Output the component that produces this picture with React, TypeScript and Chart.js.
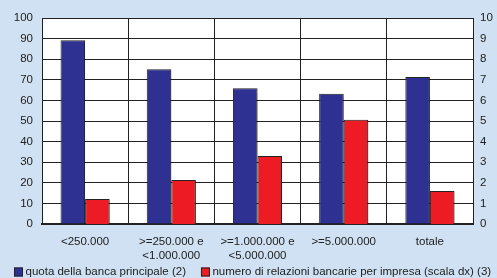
import React, { useEffect, useRef } from "react";
import { Chart, registerables } from "chart.js";

Chart.register(...registerables);

const categories: (string | string[])[] = [
  "<250.000",
  [">=250.000 e", "<1.000.000"],
  [">=1.000.000 e", "<5.000.000"],
  ">=5.000.000",
  "totale",
];
const quotaBanca = [89.2, 75.1, 65.9, 63.2, 71.4];
const numeroRelazioni = [1.21, 2.14, 3.3, 5.06, 1.6];
const leftTicks = [0, 10, 20, 30, 40, 50, 60, 70, 80, 90, 100];
const rightTicks = [0, 1, 2, 3, 4, 5, 6, 7, 8, 9, 10];

const BG = "#cfe1f2";
const BLUE = "#2e3192";
const RED = "#ed1c24";
const DARK = "#222222";
const FONT = "Liberation Sans, Arial, sans-serif";
const FS = 11.5;

export default function App() {
  const ref = useRef<HTMLCanvasElement | null>(null);
  useEffect(() => {
    document.body.style.margin = "0";
    const canvas = ref.current!;
    const bgPlugin = {
      id: "bg",
      beforeDraw(chart: any) {
        const { ctx, chartArea } = chart;
        ctx.save();
        ctx.fillStyle = BG;
        ctx.fillRect(0, 0, chart.width, chart.height);
        ctx.fillStyle = "#ffffff";
        ctx.fillRect(chartArea.left, chartArea.top, chartArea.right - chartArea.left, chartArea.bottom - chartArea.top);
        ctx.restore();
      },
      beforeDatasetsDraw(chart: any) {
        const ctx = chart.ctx;
        ctx.save();
        ctx.shadowColor = "rgba(0,0,0,0.25)";
        ctx.shadowOffsetX = 2;
        ctx.shadowOffsetY = 1;
        ctx.shadowBlur = 1;
      },
      afterDatasetsDraw(chart: any) {
        chart.ctx.restore();
      },
      afterDraw(chart: any) {
        const ctx = chart.ctx;
        ctx.save();
        ctx.font = `${FS}px ${FONT}`;
        ctx.textBaseline = "middle";
        ctx.textAlign = "left";
        const cy = 272;
        let x = 14;
        chart.data.datasets.forEach((ds: any) => {
          ctx.fillStyle = ds.backgroundColor;
          ctx.fillRect(x, cy - 4.5, 9, 9);
          ctx.strokeStyle = DARK;
          ctx.lineWidth = 1;
          ctx.strokeRect(x + 0.5, cy - 4, 8, 8);
          ctx.fillStyle = DARK;
          ctx.fillText(ds.label, x + 11.5, cy);
          x += 11.5 + ctx.measureText(ds.label).width + 15;
        });
        ctx.restore();
      },
    };
    const chart = new Chart(canvas, {
      type: "bar",
      data: {
        labels: categories,
        datasets: [
          {
            label: "quota della banca principale (2)",
            data: quotaBanca,
            backgroundColor: BLUE,
            borderColor: DARK,
            borderWidth: 1,
            yAxisID: "y",
          },
          {
            label: "numero di relazioni bancarie per impresa (scala dx) (3)",
            data: numeroRelazioni,
            backgroundColor: RED,
            borderColor: DARK,
            borderWidth: 1,
            yAxisID: "y1",
          },
        ],
      },
      options: {
        animation: false,
        responsive: false,
        maintainAspectRatio: false,
        datasets: { bar: { categoryPercentage: 0.57, barPercentage: 1 } },
        layout: { padding: { top: 18, left: 0, right: 0, bottom: 0 } },
        plugins: {
          tooltip: { enabled: false },
          legend: { display: false },
        },
        scales: {
          x: {
            offset: true,
            afterFit: (s: any) => {
              s.height = 54;
            },
            grid: { display: true, offset: true, color: DARK, drawTicks: false, lineWidth: 1 },
            border: { color: DARK, width: 2 },
            ticks: {
              color: DARK,
              padding: 10.5,
              maxRotation: 0,
              autoSkip: false,
              font: { family: FONT, size: FS, lineHeight: 1.24 },
            },
          },
          y: {
            position: "left",
            min: 0,
            max: 100,
            afterBuildTicks: (s: any) => {
              s.ticks = leftTicks.map((v) => ({ value: v }));
            },
            afterFit: (s: any) => {
              s.width = 42;
            },
            grid: { color: DARK, drawTicks: false, lineWidth: 1 },
            border: { color: DARK, width: 1 },
            ticks: {
              color: DARK,
              padding: 9,
              font: { family: FONT, size: FS },
            },
          },
          y1: {
            position: "right",
            min: 0,
            max: 10,
            afterBuildTicks: (s: any) => {
              s.ticks = rightTicks.map((v) => ({ value: v }));
            },
            afterFit: (s: any) => {
              s.width = 24;
            },
            grid: { display: false, drawTicks: false },
            border: { color: DARK, width: 1 },
            ticks: {
              color: DARK,
              padding: 7,
              font: { family: FONT, size: FS },
            },
          },
        },
      },
      plugins: [bgPlugin],
    } as any);
    return () => chart.destroy();
  }, []);
  return <canvas ref={ref} width={497} height={278} style={{ display: "block" }} />;
}
